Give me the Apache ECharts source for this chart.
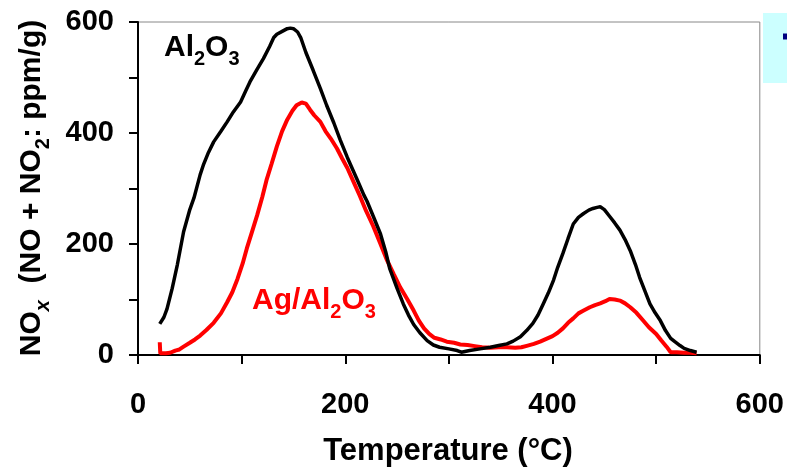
<!DOCTYPE html>
<html>
<head>
<meta charset="utf-8">
<script src="https://cdn.jsdelivr.net/npm/echarts@6/dist/echarts.min.js"></script>
<style>
  html, body { margin: 0; padding: 0; background: #fff; }
  #chart { width: 787px; height: 468px; }
</style>
</head>
<body>
<div id="chart"></div>
<script>
// NOx desorption profiles (ppm per gram) versus temperature

// Al2O3 (black trace)
const tempAl = [21, 25, 28, 33, 38, 44, 50, 54, 60, 63, 68, 73, 80, 86, 92, 99, 104, 108, 115, 121,
  127, 131, 134, 140, 144, 147, 150, 154, 157, 162, 169, 176, 182, 189, 195, 202, 211, 218, 221, 227,
  234, 239, 243, 250, 256, 261, 266, 272, 279, 285, 291, 300, 308, 312, 320, 330, 340, 348, 356, 362,
  369, 375, 381, 386, 391, 396, 401, 405, 410, 415, 420, 425, 430, 435, 439, 443, 446, 450, 455, 460,
  465, 470, 475, 480, 484, 489, 494, 499, 504, 509, 514, 518, 523, 527, 533, 539];
const noxAl = [56, 68, 83, 120, 163, 222, 262, 283, 325, 342, 365, 384, 403, 420, 438, 456, 476, 492, 515, 534,
  556, 572, 578, 584, 588, 589, 588, 582, 572, 545, 513, 480, 450, 418, 388, 356, 318, 288, 277, 250,
  218, 186, 155, 120, 92, 72, 55, 40, 26, 18, 14, 11, 8, 5, 8, 11, 14, 17, 20, 25,
  33, 44, 57, 72, 92, 112, 135, 158, 183, 210, 236, 248, 255, 261, 264, 266, 267, 262, 250, 238,
  225, 208, 188, 163, 140, 116, 92, 76, 62, 44, 30, 24, 17, 12, 8, 5];

// Ag/Al2O3 (red trace)
const tempAg = [21, 21.5, 23, 27, 31, 36, 40, 44, 50, 55, 60, 66, 73, 80, 86, 91, 96, 101, 105, 110,
  115, 120, 124, 129, 134, 139, 144, 149, 153, 158, 162, 166, 170, 176, 181, 186, 192, 197, 202, 208,
  214, 220, 227, 234, 240, 247, 253, 260, 266, 271, 276, 281, 286, 292, 298, 305, 311, 318, 325, 332,
  340, 348, 356, 364, 370, 376, 382, 388, 394, 400, 405, 410, 415, 420, 425, 430, 436, 441, 446, 451,
  455, 460, 465, 470, 475, 481, 487, 493, 500, 505, 510, 514, 520, 527, 533, 539];
const noxAg = [23, 3, 2, 3, 4, 8, 10, 15, 22, 28, 35, 45, 58, 75, 95, 113, 137, 165, 192, 222,
  252, 285, 315, 345, 376, 403, 424, 440, 450, 455, 453, 442, 432, 420, 403, 390, 372, 354, 337, 312,
  287, 260, 232, 200, 172, 145, 122, 100, 80, 62, 48, 38, 31, 28, 24, 22, 19, 18, 16, 14,
  13, 14, 14, 13, 14, 17, 20, 24, 29, 34, 40, 48, 58, 66, 75, 80, 86, 90, 93, 97,
  101, 100, 98, 93, 86, 76, 63, 50, 38, 26, 15, 5, 5, 4, 4, 3];

// Axis ticks
const xTicks = [0, 200, 400, 600];
const yTicks = [0, 200, 400, 600];

const FONT = "'Liberation Sans', Arial, Helvetica, sans-serif";

function pairs(xs, ys) {
  return xs.map((x, i) => [x, ys[i]]);
}

const chart = echarts.init(document.getElementById('chart'), null, { renderer: 'canvas' });

const axisCommon = {
  type: 'value',
  splitLine: { show: false },
  axisLine: { show: true, onZero: false, lineStyle: { color: '#000', width: 2 } },
  axisTick: { show: true, inside: false, length: 9, lineStyle: { color: '#000', width: 2 } },
  minorTick: { show: true, splitNumber: 2, length: 9, lineStyle: { color: '#000', width: 2 } },
  minorSplitLine: { show: false }
};

const subStyle = { fontFamily: FONT, fontWeight: 'bold', fontSize: 20, lineHeight: 18, padding: [16, 0, 0, 0], verticalAlign: 'top' };
const mainStyle = { fontFamily: FONT, fontWeight: 'bold', fontSize: 30, lineHeight: 30, verticalAlign: 'top' };

chart.setOption({
  animation: false,
  backgroundColor: '#fff',
  grid: {
    left: 138, right: 27, top: 22, bottom: 113,
    show: true, borderColor: '#888', borderWidth: 1, backgroundColor: 'transparent'
  },
  xAxis: Object.assign({}, axisCommon, {
    min: xTicks[0], max: xTicks[xTicks.length - 1], interval: xTicks[1] - xTicks[0],
    axisLabel: { color: '#000', fontFamily: FONT, fontWeight: 'bold', fontSize: 29, margin: 35 }
  }),
  yAxis: Object.assign({}, axisCommon, {
    min: yTicks[0], max: yTicks[yTicks.length - 1], interval: yTicks[1] - yTicks[0],
    axisLabel: { color: '#000', fontFamily: FONT, fontWeight: 'bold', fontSize: 29, margin: 24 }
  }),
  series: [
    {
      name: 'Al2O3', type: 'line', data: pairs(tempAl, noxAl),
      showSymbol: false, smooth: false,
      lineStyle: { color: '#000', width: 3.5 }, z: 3
    },
    {
      name: 'Ag/Al2O3', type: 'line', data: pairs(tempAg, noxAg),
      showSymbol: false, smooth: false,
      lineStyle: { color: '#ff0000', width: 4 }, z: 2
    }
  ],
  graphic: [
    {
      type: 'text', x: 164, y: 33, z: 10,
      style: {
        text: '{m|Al}{s|2}{m|O}{s|3}',
        fill: '#000',
        rich: { m: mainStyle, s: subStyle }
      }
    },
    {
      type: 'text', x: 252, y: 286, z: 10,
      style: {
        text: '{m|Ag/Al}{s|2}{m|O}{s|3}',
        fill: '#ff0000',
        rich: {
          m: Object.assign({}, mainStyle, { color: '#ff0000' }),
          s: Object.assign({}, subStyle, { color: '#ff0000' })
        }
      }
    },
    {
      type: 'text', x: 32, y: 188, rotation: Math.PI / 2, z: 10,
      style: {
        text: '{m|NO}{x|x}{m|  (NO + NO}{s|2}{m|: ppm/g)}',
        align: 'center', verticalAlign: 'middle',
        fill: '#000',
        rich: {
          m: mainStyle,
          s: subStyle,
          x: Object.assign({}, subStyle, { fontStyle: 'italic' })
        }
      }
    },
    {
      type: 'text', x: 448, y: 451, z: 10,
      style: {
        text: 'Temperature (°C)',
        align: 'center', verticalAlign: 'middle',
        fill: '#000', fontFamily: FONT, fontWeight: 'bold', fontSize: 31
      }
    },
    {
      type: 'rect', z: 10,
      shape: { x: 763, y: 13, width: 30, height: 70 },
      style: { fill: '#ccffff' }
    },
    {
      type: 'rect', z: 11,
      shape: { x: 783, y: 33.5, width: 8, height: 6 },
      style: { fill: '#000080' }
    }
  ]
});
</script>
</body>
</html>
